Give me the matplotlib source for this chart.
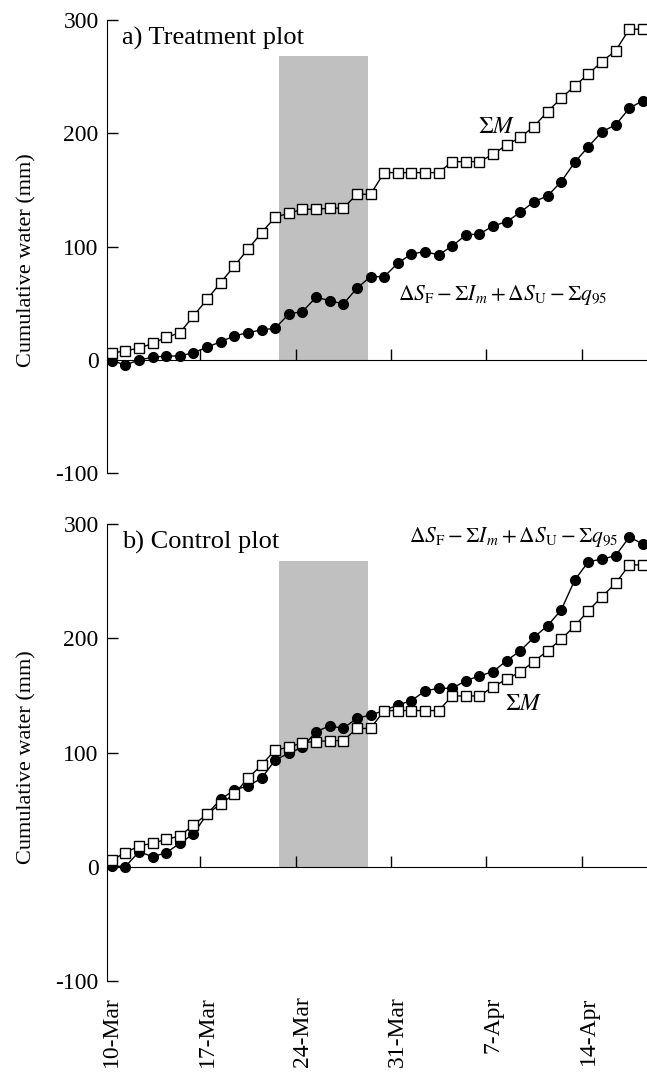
import numpy as np
import matplotlib
matplotlib.use("Agg")
import matplotlib.pyplot as plt

plt.rcParams['font.family'] = ['Liberation Serif', 'DejaVu Serif']
plt.rcParams['mathtext.fontset'] = 'stix'

# daily values, 10-Mar .. 18-Apr
treat_sum_m = [5.9, 8.2, 10.3, 14.7, 20, 24, 38.8, 53.6, 68.3, 83,
               97.7, 112.4, 126, 129.5, 133, 133, 133.9, 134, 146.2, 146.2,
               165.3, 165.3, 165.3, 165.3, 165.3, 175, 175, 175, 181.5, 189.8,
               196.5, 206, 219.2, 231, 241.8, 252.4, 263.3, 273, 291.9, 291.9]
treat_balance = [-0.6, -4.4, 0, 2.4, 3.5, 3.5, 6.5, 11.2, 16.2, 21.2,
                 24.1, 26.5, 28, 40.6, 42.7, 55.3, 52.4, 49.4, 63.3, 73.5,
                 73.5, 85.3, 93.6, 95.6, 92.7, 100.6, 110.3, 111.2, 118.3, 122,
                 130.3, 139.7, 144.7, 157.4, 174.5, 188.3, 201.5, 207.4, 222.1, 228.9]
ctrl_sum_m = [6.1, 12.5, 18.4, 20.7, 24.2, 27.1, 36.7, 46.4, 55.1, 63.9,
              77.6, 89.2, 102.4, 104.7, 108.8, 109.7, 110.5, 110.5, 121.2, 121.2,
              136.8, 136.8, 136.8, 136.8, 136.8, 149.6, 149.6, 149.6, 157.7, 164.2,
              170.9, 179.6, 189.2, 199.2, 210.9, 224.2, 236.5, 248.2, 264.2, 264.2]
ctrl_balance = [0.9, 0.3, 13.4, 9, 12.5, 20.7, 28.9, 46.4, 59.2, 67.4,
                70.9, 77.6, 93.6, 99.5, 104.7, 118.4, 123.4, 121.3, 130.1, 133,
                136.8, 141.7, 145.5, 154, 156.3, 156.3, 163, 167.1, 170.9, 180.5,
                189.2, 200.9, 211.1, 224.8, 251.1, 267.1, 269.2, 272.4, 288.5, 282.6]

date_labels = ['10-Mar', '17-Mar', '24-Mar', '31-Mar', '7-Apr', '14-Apr']
date_pos = [0, 7, 14, 21, 28, 35]

# shaded period (in day index) and its height
shade_start, shade_end, shade_top = 12.3, 18.8, 268

days = np.arange(len(treat_sum_m))
balance_label = r'$\Delta S_{\mathrm{F}} - \Sigma I_m + \Delta S_{\mathrm{U}} - \Sigma q_{95}$'

fig = plt.figure(figsize=(6.47, 10.74), dpi=100)
ax1 = fig.add_axes([0.1654, 0.5593, 0.8346, 0.4221])
ax2 = fig.add_axes([0.1654, 0.0863, 0.8346, 0.4258])


def style(ax, sum_m, balance, title, label_y):
    ax.fill_between([shade_start, shade_end], 0, shade_top, color='#c0c0c0', lw=0, zorder=0)
    ax.plot(days, sum_m, '-s', color='black', lw=1.0, ms=6.5, mfc='white', mec='black', mew=1.0, zorder=3)
    ax.plot(days, balance, '-o', color='black', lw=1.0, ms=7, mfc='black', mec='black', zorder=2)
    ax.set_xlim(-0.35, 39.3)
    ax.set_ylim(-100, 300)
    ax.set_yticks([-100, 0, 100, 200, 300])
    ax.set_yticklabels(['-100', '0', '100', '200', '300'])
    ax.spines['top'].set_visible(False)
    ax.spines['right'].set_visible(False)
    ax.spines['bottom'].set_position(('data', 0))
    ax.set_xticks([6.5, 13.5, 20.5, 27.5, 34.5])
    ax.set_xticklabels([])
    ax.tick_params(axis='x', direction='in', length=8, width=1.0)
    ax.tick_params(axis='y', direction='in', length=8, width=1.0, labelsize=17, pad=6)
    ax.set_ylabel('Cumulative water (mm)', fontsize=16, labelpad=14, y=label_y)
    ax.text(0.75, 284, title, fontsize=19, va='center', ha='left')


style(ax1, treat_sum_m, treat_balance, 'a) Treatment plot', 0.47)
style(ax2, ctrl_sum_m, ctrl_balance, 'b) Control plot', 0.49)

ax1.text(26.9, 205, r'$\Sigma M$', fontsize=17, va='center', ha='left')
ax1.text(21.0, 57, balance_label, fontsize=15.5, va='center', ha='left')
ax2.text(28.9, 142, r'$\Sigma M$', fontsize=17, va='center', ha='left')
ax2.text(21.8, 289, balance_label, fontsize=15.5, va='center', ha='left')

# date labels along the bottom of the lower panel
sec = ax2.secondary_xaxis(0.0)
sec.spines['bottom'].set_visible(False)
sec.set_xticks(date_pos)
sec.set_xticklabels(date_labels, rotation=90, fontsize=17)
sec.tick_params(length=0, pad=11)

fig.savefig('out.png', dpi=100)
